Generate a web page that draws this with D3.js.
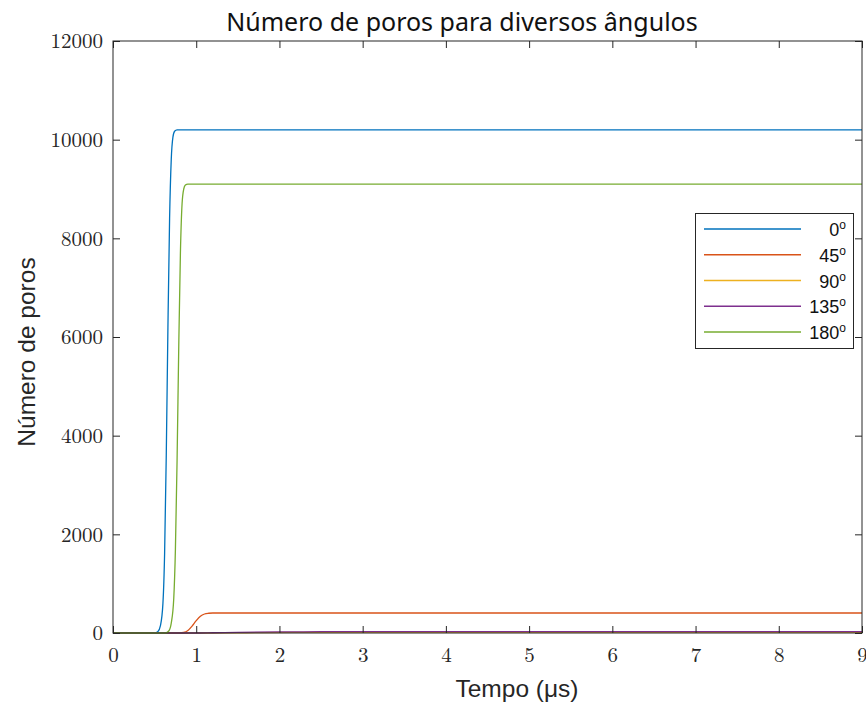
<!DOCTYPE html>
<html>
<head>
<meta charset="utf-8">
<script src="https://cdn.jsdelivr.net/npm/d3@7"></script>
<style>
  html, body { margin: 0; padding: 0; background: #fff; }
  svg { display: block; }
</style>
</head>
<body>
<svg id="chart" width="866" height="707"></svg>
<script>
// Pore counts over time for several angles
const angleLabels = ["0", "45", "90", "135", "180"];
const seriesColors = ["#0072BD", "#D95319", "#EDB120", "#7E2F8E", "#77AC30"];

const t0   = [0, 0.5, 0.54, 0.57, 0.6, 0.62, 0.64, 0.66, 0.68, 0.70, 0.72, 0.74, 0.77, 0.8, 9];
const v0   = [0, 0, 30, 150, 600, 1600, 3600, 6200, 8400, 9600, 10050, 10170, 10200, 10200, 10200];

const t45  = [0, 0.8, 0.85, 0.9, 0.95, 1.0, 1.05, 1.1, 1.15, 1.2, 9];
const v45  = [0, 0, 10, 50, 140, 250, 340, 385, 400, 405, 405];

const t90  = [0, 1.1, 1.4, 1.8, 2.5, 3, 9];
const v90  = [0, 0, 3, 8, 12, 13, 13];

const t135 = [0, 1.0, 1.2, 1.5, 2.0, 2.5, 3, 9];
const v135 = [0, 0, 5, 14, 22, 26, 27, 27];

const t180 = [0, 0.63, 0.67, 0.70, 0.73, 0.75, 0.77, 0.79, 0.81, 0.83, 0.85, 0.87, 0.90, 0.93, 9];
const v180 = [0, 0, 40, 200, 700, 1700, 3500, 5800, 7700, 8700, 9000, 9080, 9100, 9100, 9100];

const xTicks = [0, 1, 2, 3, 4, 5, 6, 7, 8, 9];
const yTicks = [0, 2000, 4000, 6000, 8000, 10000, 12000];

const series = [
  { label: angleLabels[0], t: t0,   v: v0 },
  { label: angleLabels[1], t: t45,  v: v45 },
  { label: angleLabels[2], t: t90,  v: v90 },
  { label: angleLabels[3], t: t135, v: v135 },
  { label: angleLabels[4], t: t180, v: v180 }
];

const svg = d3.select("#chart");
const plotL = 113, plotR = 862, plotT = 41, plotB = 633;

const x = d3.scaleLinear().domain([0, 9]).range([plotL, plotR]);
const y = d3.scaleLinear().domain([0, 12000]).range([plotB, plotT]);

const axisColor = "#262626";
const tickFont = "'Latin Modern Roman','CMU Serif','DejaVu Serif',serif";
const tickLen = 7;

// plot lines
const line = d3.line()
  .x(d => x(d[0]))
  .y(d => y(d[1]))
  .curve(d3.curveMonotoneX);

const plot = svg.append("g");
series.forEach((s, i) => {
  plot.append("path")
    .datum(s.t.map((tt, j) => [tt, s.v[j]]))
    .attr("d", line)
    .attr("fill", "none")
    .attr("stroke", seriesColors[i])
    .attr("stroke-width", 1.3);
});

// bottom axis (ticks inward)
const xAxis = d3.axisBottom(x).tickValues(xTicks).tickSize(-tickLen).tickPadding(14)
  .tickFormat(d3.format("d"));
const gx = svg.append("g").attr("transform", `translate(0,${plotB})`).call(xAxis);
gx.select(".domain").remove();
gx.selectAll("line").attr("stroke", axisColor);
gx.selectAll("text").attr("font-family", tickFont).attr("font-size", 21).attr("fill", axisColor);

// top axis ticks
const gxt = svg.append("g").attr("transform", `translate(0,${plotT})`)
  .call(d3.axisTop(x).tickValues(xTicks).tickSize(-tickLen).tickFormat(""));
gxt.select(".domain").remove();
gxt.selectAll("line").attr("stroke", axisColor);

// left axis
const yAxis = d3.axisLeft(y).tickValues(yTicks).tickSize(-tickLen).tickPadding(10)
  .tickFormat(d3.format("d"));
const gy = svg.append("g").attr("transform", `translate(${plotL},0)`).call(yAxis);
gy.select(".domain").remove();
gy.selectAll("line").attr("stroke", axisColor);
gy.selectAll("text").attr("font-family", tickFont).attr("font-size", 21).attr("fill", axisColor);

// right axis ticks
const gyr = svg.append("g").attr("transform", `translate(${plotR},0)`)
  .call(d3.axisRight(y).tickValues(yTicks).tickSize(-tickLen).tickFormat(""));
gyr.select(".domain").remove();
gyr.selectAll("line").attr("stroke", axisColor);

// box
svg.append("rect")
  .attr("x", plotL).attr("y", plotT)
  .attr("width", plotR - plotL).attr("height", plotB - plotT)
  .attr("fill", "none").attr("stroke", axisColor).attr("stroke-width", 1);

// title
svg.append("text")
  .attr("x", 462).attr("y", 31)
  .attr("text-anchor", "middle")
  .attr("font-family", "'Noto Sans','Open Sans',sans-serif")
  .attr("font-size", 25)
  .attr("fill", "#111")
  .text("Número de poros para diversos ângulos");

// axis labels
svg.append("text")
  .attr("x", 517).attr("y", 697)
  .attr("text-anchor", "middle")
  .attr("font-family", "'Liberation Sans',Arial,sans-serif")
  .attr("font-size", 24.5)
  .attr("fill", axisColor)
  .text("Tempo (μs)");

svg.append("text")
  .attr("transform", "translate(35,352) rotate(-90)")
  .attr("text-anchor", "middle")
  .attr("font-family", "'Liberation Sans',Arial,sans-serif")
  .attr("font-size", 24.5)
  .attr("fill", axisColor)
  .text("Número de poros");

// legend
const legend = svg.append("g");
legend.append("rect")
  .attr("x", 695.5).attr("y", 213.5)
  .attr("width", 158).attr("height", 135)
  .attr("fill", "#fff").attr("stroke", axisColor).attr("stroke-width", 1);

const ly = d3.scalePoint().domain(d3.range(series.length)).range([229, 332]);
series.forEach((s, i) => {
  const yy = ly(i);
  legend.append("line")
    .attr("x1", 704).attr("x2", 801)
    .attr("y1", yy).attr("y2", yy)
    .attr("stroke", seriesColors[i]).attr("stroke-width", 1.3);
  const txt = legend.append("text")
    .attr("x", 846).attr("y", yy + 7)
    .attr("text-anchor", "end")
    .attr("font-family", "'Liberation Sans',Arial,sans-serif")
    .attr("font-size", 18)
    .attr("fill", "#111");
  txt.append("tspan").text(s.label);
  txt.append("tspan").attr("dy", -7).attr("font-size", 12).text("o");
});
</script>
</body>
</html>
